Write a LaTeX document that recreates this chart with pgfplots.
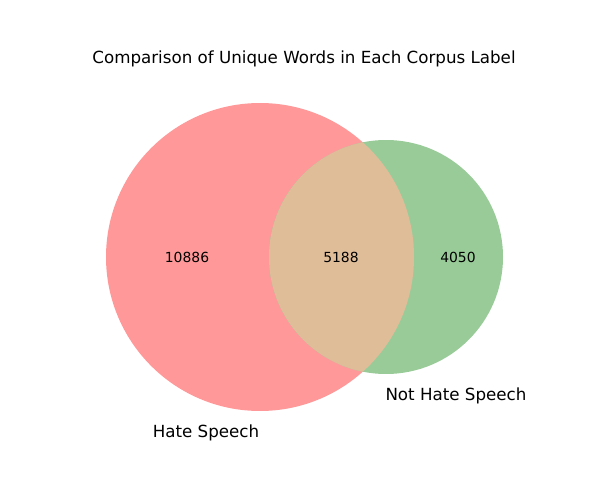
\documentclass[border=0pt]{standalone}
\usepackage{pgfplots}
\pgfplotsset{compat=1.18}
\usepackage{fontspec}
\setmainfont{DejaVu Sans}
\definecolor{hs}{HTML}{FF9999}
\definecolor{nhs}{HTML}{99CB99}
\definecolor{ov}{HTML}{E0BD99}
\begin{document}
\begin{tikzpicture}
\begin{axis}[width=608pt,height=492pt,scale only axis,hide axis,
  xmin=0,xmax=608,ymin=0,ymax=492,y dir=reverse,clip=false,enlargelimits=false]
\addplot[draw=none,forget plot] coordinates {(0,0)(608,492)};
\fill[hs] (axis cs:260,257) circle[radius=154];
\fill[nhs] (axis cs:386,257) circle[radius=117];
\begin{scope}
\clip (axis cs:260,257) circle[radius=154];
\fill[ov] (axis cs:386,257) circle[radius=117];
\end{scope}
\node[font=\fontsize{16.7}{20}\selectfont] at (axis cs:304,59) {Comparison of Unique Words in Each Corpus Label};
\node[font=\fontsize{13.9}{16}\selectfont] at (axis cs:187,257) {10886};
\node[font=\fontsize{13.9}{16}\selectfont] at (axis cs:341,257) {5188};
\node[font=\fontsize{13.9}{16}\selectfont] at (axis cs:458,257) {4050};
\node[font=\fontsize{16.7}{20}\selectfont] at (axis cs:206,433) {Hate Speech};
\node[font=\fontsize{16.7}{20}\selectfont] at (axis cs:456,396) {Not Hate Speech};
\end{axis}
\end{tikzpicture}
\end{document}
